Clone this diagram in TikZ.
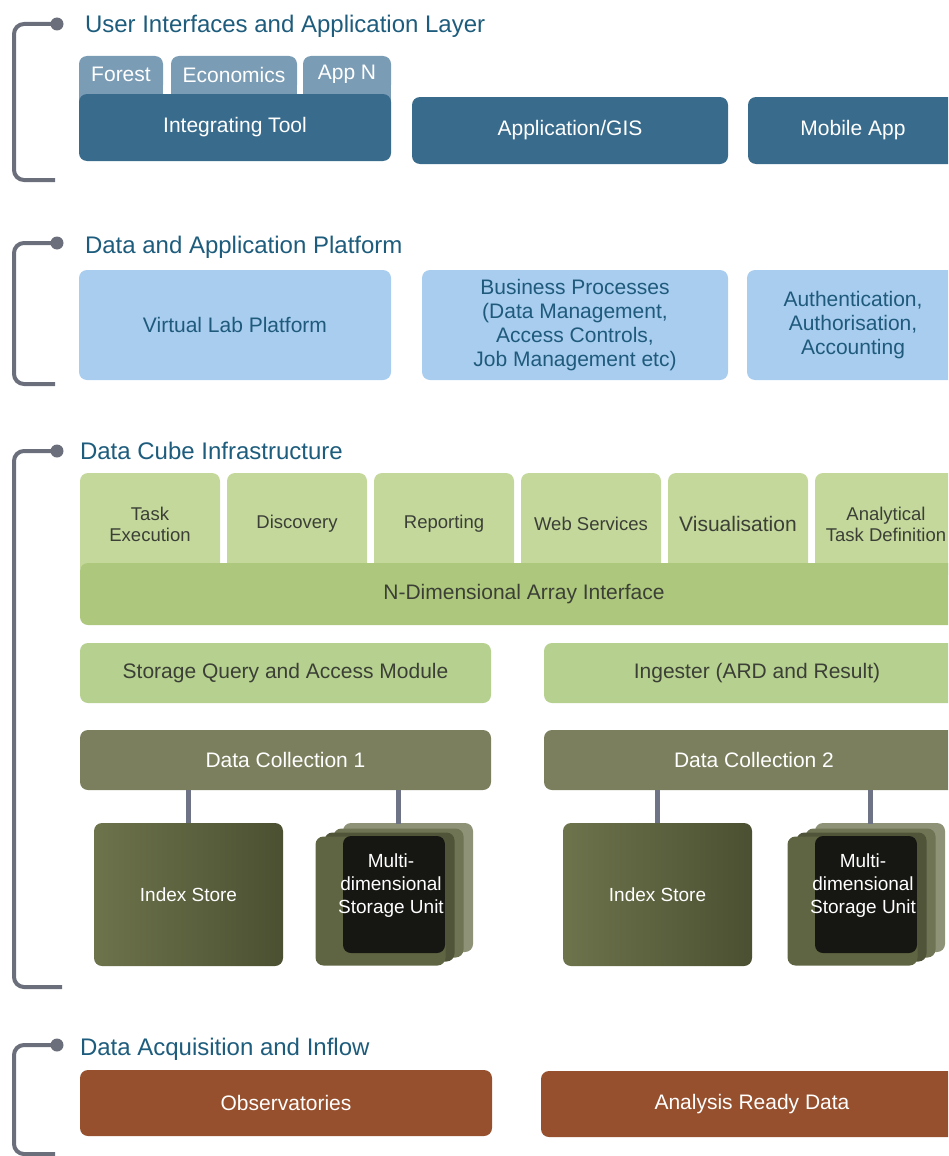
\documentclass[tikz,border=0pt]{standalone}
\usepackage{fontspec}
\setmainfont{Liberation Sans}
\definecolor{titleC}{HTML}{1D5C7C}
\definecolor{dkblue}{HTML}{396C8C}
\definecolor{tabblue}{HTML}{7B9CB5}
\definecolor{ltblue}{HTML}{A8CDEE}
\definecolor{ltbluetext}{HTML}{1F5A7C}
\definecolor{gtab}{HTML}{C4D89C}
\definecolor{gbase}{HTML}{ADC87C}
\definecolor{gbox}{HTML}{B6D18F}
\definecolor{gtext}{HTML}{3B3F36}
\definecolor{olive}{HTML}{7B7F5D}
\definecolor{isleft}{HTML}{6D734B}
\definecolor{isright}{HTML}{4B5032}
\definecolor{brown}{HTML}{97502D}
\definecolor{brk}{HTML}{6B6E7B}
\definecolor{conn}{HTML}{6E7386}
\definecolor{layA}{HTML}{8E9276}
\definecolor{layB}{HTML}{6F7454}
\definecolor{layC}{HTML}{50553A}
\definecolor{layD}{HTML}{5F6542}
\definecolor{layDark}{HTML}{161612}
\begin{document}
\begin{tikzpicture}[x=1pt,y=-1pt,
  every node/.style={inner sep=0pt,outer sep=0pt},
  sz/.style 2 args={minimum width=#1pt,minimum height=#2pt},
  bx/.style={rounded corners=8pt,align=center,font=\fontsize{21}{24}\selectfont},
  smallbx/.style={rounded corners=8pt,align=center,font=\fontsize{18.5}{21}\selectfont},
  title/.style={anchor=base west,text=titleC,font=\fontsize{24}{26}\selectfont},
  dkb/.style={bx,fill=dkblue,text=white},
  tabb/.style={bx,fill=tabblue,text=white},
  ltb/.style={bx,fill=ltblue,text=ltbluetext},
  gt/.style={smallbx,fill=gtab,text=gtext},
  gb/.style={bx,fill=gbase,text=gtext},
  gx/.style={bx,fill=gbox,text=gtext},
  ol/.style={bx,fill=olive,text=white},
  idx/.style={rounded corners=8pt,left color=isleft,right color=isright,text=white,font=\fontsize{19}{23}\selectfont},
  lay/.style={rounded corners=8pt,sz={130}{129}},
  msutext/.style={align=center,text=white,font=\fontsize{19}{23}\selectfont},
  br/.style={ol,fill=brown},
  dot/.style={circle,fill=brk,minimum size=13pt},
  bracket/.style={draw=brk,line width=4pt,rounded corners=10pt},
  link/.style={draw=conn,line width=5pt}
]
\useasboundingbox (0,0) rectangle (948,1156);
\clip (0,0) rectangle (948,1156);

% ---------- brackets ----------
\node[dot] (d1) at (57,24) {};
\draw[bracket] (d1.center) -- (14,24) -- (14,180) -- (55,180);
\node[dot] (d2) at (57,243) {};
\draw[bracket] (d2.center) -- (14,243) -- (14,384) -- (55,384);
\node[dot] (d3) at (57,451) {};
\draw[bracket] (d3.center) -- (14,451) -- (14,987) -- (62,987);
\node[dot] (d4) at (57,1045) {};
\draw[bracket] (d4.center) -- (14,1045) -- (14,1154) -- (55,1154);

% ---------- titles ----------
\node[title] (t1) at (85,33) {User Interfaces and Application Layer};
\node[title] (t2) at (85,253) {Data and Application Platform};
\node[title] (t3) at (80,459) {Data Cube Infrastructure};
\node[title] (t4) at (80,1055) {Data Acquisition and Inflow};

% ---------- layer 1 ----------
\node[tabb,sz={84}{37}] (forest) at (121,74.5) {Forest};
\node[tabb,sz={126}{37}] (econ) at (234,74.5) {Economics};
\node[tabb,sz={88}{37}] (appn) at (347,74.5) {App N};
\foreach \t in {forest,econ,appn}
  \fill[tabblue] ([yshift=10pt]\t.south west) rectangle ([yshift=-9pt]\t.south east);
\node[dkb,sz={312}{67}] (integ) at (235,127.5) {Integrating Tool};
\node[dkb,sz={316}{67}] (appgis) at (570,130.5) {Application/GIS};
\node[dkb,sz={210}{67}] (mobile) at (853,130.5) {Mobile App};

% ---------- layer 2 ----------
\node[ltb,sz={312}{110}] (vlab) at (235,325) {Virtual Lab Platform};
\node[ltb,sz={306}{110}] (biz) at (575,325) {Business Processes\\(Data Management,\\Access Controls,\\Job Management etc)};
\node[ltb,sz={212}{110}] (auth) at (853,325) {Authentication,\\Authorisation,\\Accounting};

% ---------- layer 3 ----------
\node[gt,sz={140}{102}] (task) at (150,524) {Task\\Execution};
\node[gt,sz={140}{102}] (disc) at (297,524) {Discovery};
\node[gt,sz={140}{102}] (rep) at (444,524) {Reporting};
\node[gt,sz={140}{102}] (web) at (591,524) {Web Services};
\node[gt,sz={140}{102},font=\fontsize{21}{24}\selectfont] (vis) at (738,524) {Visualisation};
\node[gt,sz={142}{102}] (ana) at (886,524) {Analytical\\Task Definition};
\node[gb,sz={888}{62}] (nda) at (524,594) {N-Dimensional Array Interface};

\node[gx,sz={411}{60}] (sqam) at (285.5,673) {Storage Query and Access Module};
\node[gx,sz={426}{60}] (ing) at (757,673) {Ingester (ARD and Result)};

\node[ol,sz={411}{60}] (dc1) at (285.5,760) {Data Collection 1};
\node[ol,sz={420}{60}] (dc2) at (754,760) {Data Collection 2};

\node[idx,sz={189}{143}] (is1) at (188.5,894.5) {Index Store};
\node[idx,sz={189}{143}] (is2) at (657.5,894.5) {Index Store};

% storage unit 1
\node[lay,fill=layA] (m1a) at (408,887.5) {};
\node[lay,fill=layB] (m1b) at (398.5,893) {};
\node[lay,fill=layC] (m1c) at (389.5,897) {};
\node[lay,fill=layD] (m1d) at (380.5,901) {};
\fill[layDark,rounded corners=8pt] (343,836) rectangle (445,953);
\node[msutext] (msu1) at (391,886) {Multi-\\dimensional\\Storage Unit};

% storage unit 2
\node[lay,fill=layA] (m2a) at (880,887.5) {};
\node[lay,fill=layB] (m2b) at (870.5,893) {};
\node[lay,fill=layC] (m2c) at (861.5,897) {};
\node[lay,fill=layD] (m2d) at (852.5,901) {};
\fill[layDark,rounded corners=8pt] (815,836) rectangle (917,953);
\node[msutext] (msu2) at (863,886) {Multi-\\dimensional\\Storage Unit};

% connectors
\draw[link] (dc1.south -| is1.north) -- (is1.north);
\draw[link] (dc1.south -| m1b.north) -- ([yshift=-1pt]m1a.north -| m1b.north);
\draw[link] (dc2.south -| is2.north) -- (is2.north);
\draw[link] (dc2.south -| m2b.north) -- ([yshift=-1pt]m2a.north -| m2b.north);

% ---------- layer 4 ----------
\node[br,sz={412}{66}] (obs) at (286,1103) {Observatories};
\node[br,sz={422}{66}] (ard) at (752,1104) {Analysis Ready Data};
\end{tikzpicture}
\end{document}
